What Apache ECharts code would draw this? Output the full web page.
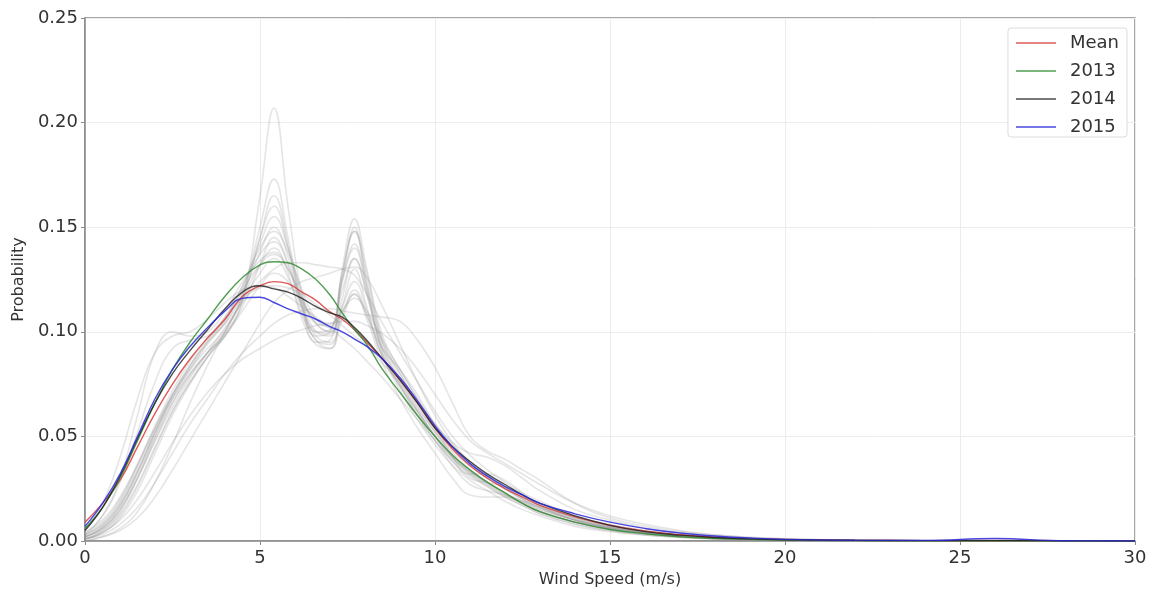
<!DOCTYPE html>
<html>
<head>
<meta charset="utf-8">
<script src="https://cdn.jsdelivr.net/npm/echarts@6/dist/echarts.min.js"></script>
<style>
html,body{margin:0;padding:0;background:#fff;}
#chart{width:1156px;height:596px;}
</style>
</head>
<body>
<div id="chart"></div>
<script>
// Wind speed grid (m/s)
const xs = [0, 0.5, 1, 1.5, 2, 2.5, 3, 3.5, 4, 4.5, 5, 5.4, 5.8, 6.2, 6.6, 7, 7.35, 7.7, 8.05, 8.5, 9, 9.5, 10, 10.5, 11, 11.5, 12, 12.5, 13, 14, 15, 16, 17, 18, 19, 20, 22, 24, 26, 28, 30];

const xTicks = [0, 5, 10, 15, 20, 25, 30];
const yTicks = [0, 0.05, 0.10, 0.15, 0.20, 0.25];

const meanVals = [0.009, 0.018, 0.029, 0.045, 0.061, 0.075, 0.087, 0.097, 0.106, 0.117, 0.122, 0.124, 0.123, 0.119, 0.115, 0.1095, 0.106, 0.101, 0.095, 0.087, 0.077, 0.066, 0.054, 0.044, 0.036, 0.030, 0.025, 0.021, 0.017, 0.0115, 0.0075, 0.0048, 0.003, 0.0018, 0.0011, 0.0007, 0.0003, 0.0002, 0.0003, 0.0001, 0];
const y2013 = [0.006, 0.016, 0.030, 0.048, 0.066, 0.082, 0.095, 0.106, 0.117, 0.126, 0.132, 0.1335, 0.133, 0.130, 0.125, 0.1176, 0.109, 0.101, 0.094, 0.082, 0.071, 0.060, 0.050, 0.041, 0.034, 0.028, 0.023, 0.018, 0.014, 0.009, 0.0055, 0.0035, 0.002, 0.0012, 0.0008, 0.0005, 0.0002, 0.0001, 0.0001, 0, 0];
const y2014 = [0.005, 0.016, 0.031, 0.049, 0.066, 0.080, 0.091, 0.101, 0.111, 0.119, 0.122, 0.1205, 0.119, 0.116, 0.112, 0.109, 0.107, 0.102, 0.096, 0.087, 0.077, 0.066, 0.054, 0.045, 0.038, 0.032, 0.027, 0.022, 0.018, 0.012, 0.0075, 0.0045, 0.0028, 0.0017, 0.001, 0.0006, 0.0003, 0.0002, 0.0002, 0.0001, 0];
const y2015 = [0.007, 0.018, 0.032, 0.050, 0.068, 0.082, 0.093, 0.102, 0.110, 0.116, 0.1165, 0.114, 0.111, 0.1085, 0.106, 0.1025, 0.100, 0.0965, 0.093, 0.087, 0.078, 0.067, 0.055, 0.045, 0.037, 0.031, 0.026, 0.022, 0.018, 0.013, 0.009, 0.006, 0.0038, 0.0024, 0.0014, 0.0008, 0.0004, 0.0003, 0.0012, 0.0001, 0];

// individual (monthly) curves, drawn in light grey
const g01 = [0.002, 0.006, 0.015, 0.030, 0.048, 0.066, 0.080, 0.090, 0.098, 0.115, 0.165, 0.207, 0.160, 0.118, 0.100, 0.098, 0.125, 0.150, 0.122, 0.090, 0.075, 0.062, 0.050, 0.040, 0.033, 0.028, 0.023, 0.018, 0.014, 0.009, 0.006, 0.004, 0.0025, 0.0015, 0.001, 0.0006, 0.0002, 0.0001, 0, 0, 0];
const g02 = [0.003, 0.008, 0.018, 0.034, 0.052, 0.068, 0.080, 0.090, 0.100, 0.118, 0.150, 0.173, 0.145, 0.115, 0.098, 0.100, 0.128, 0.148, 0.125, 0.095, 0.080, 0.066, 0.053, 0.043, 0.036, 0.030, 0.025, 0.020, 0.016, 0.010, 0.0065, 0.004, 0.0025, 0.0015, 0.001, 0.0006, 0.0002, 0.0001, 0, 0, 0];
const g03 = [0.001, 0.004, 0.012, 0.026, 0.044, 0.062, 0.076, 0.088, 0.098, 0.115, 0.145, 0.165, 0.142, 0.112, 0.095, 0.096, 0.130, 0.154, 0.130, 0.098, 0.082, 0.068, 0.055, 0.045, 0.038, 0.031, 0.025, 0.020, 0.016, 0.010, 0.0065, 0.004, 0.0025, 0.0015, 0.001, 0.0005, 0.0002, 0.0001, 0, 0, 0];
const g04 = [0.002, 0.007, 0.017, 0.033, 0.052, 0.070, 0.084, 0.095, 0.104, 0.120, 0.142, 0.155, 0.140, 0.118, 0.104, 0.103, 0.125, 0.142, 0.122, 0.094, 0.078, 0.064, 0.052, 0.042, 0.034, 0.028, 0.023, 0.019, 0.015, 0.010, 0.006, 0.0038, 0.0024, 0.0014, 0.0009, 0.0005, 0.0002, 0.0001, 0, 0, 0];
const g05 = [0.004, 0.010, 0.021, 0.037, 0.055, 0.072, 0.086, 0.097, 0.107, 0.122, 0.140, 0.148, 0.138, 0.120, 0.106, 0.102, 0.120, 0.135, 0.118, 0.092, 0.076, 0.062, 0.050, 0.040, 0.032, 0.027, 0.022, 0.018, 0.014, 0.009, 0.0055, 0.0035, 0.002, 0.0012, 0.0008, 0.0005, 0.0002, 0.0001, 0, 0, 0];
const g06 = [0.001, 0.005, 0.014, 0.030, 0.050, 0.068, 0.082, 0.094, 0.105, 0.122, 0.137, 0.143, 0.132, 0.110, 0.096, 0.094, 0.112, 0.130, 0.112, 0.088, 0.074, 0.060, 0.048, 0.036, 0.027, 0.024, 0.022, 0.019, 0.015, 0.010, 0.006, 0.0038, 0.0023, 0.0014, 0.0008, 0.0005, 0.0002, 0.0001, 0, 0, 0];
const g07 = [0.003, 0.012, 0.030, 0.060, 0.090, 0.100, 0.098, 0.100, 0.110, 0.124, 0.134, 0.138, 0.130, 0.116, 0.104, 0.100, 0.112, 0.124, 0.110, 0.088, 0.072, 0.058, 0.046, 0.036, 0.029, 0.024, 0.019, 0.015, 0.012, 0.007, 0.0045, 0.0028, 0.0017, 0.001, 0.0006, 0.0004, 0.0001, 0.0001, 0, 0, 0];
const g08 = [0.002, 0.006, 0.015, 0.030, 0.048, 0.064, 0.078, 0.090, 0.102, 0.114, 0.124, 0.130, 0.133, 0.133, 0.132, 0.131, 0.130, 0.127, 0.118, 0.104, 0.090, 0.076, 0.062, 0.050, 0.041, 0.034, 0.028, 0.023, 0.019, 0.012, 0.008, 0.005, 0.003, 0.0018, 0.0011, 0.0007, 0.0003, 0.0001, 0, 0, 0];
const g09 = [0.001, 0.003, 0.008, 0.016, 0.028, 0.042, 0.056, 0.068, 0.080, 0.090, 0.098, 0.104, 0.108, 0.110, 0.111, 0.111, 0.110, 0.109, 0.108, 0.107, 0.105, 0.096, 0.083, 0.066, 0.050, 0.043, 0.039, 0.034, 0.029, 0.018, 0.011, 0.007, 0.0045, 0.0028, 0.0017, 0.001, 0.0004, 0.0002, 0.0001, 0, 0];
const g10 = [0.001, 0.004, 0.010, 0.020, 0.033, 0.047, 0.060, 0.071, 0.080, 0.087, 0.092, 0.096, 0.099, 0.101, 0.103, 0.104, 0.105, 0.105, 0.103, 0.099, 0.092, 0.082, 0.070, 0.058, 0.048, 0.042, 0.037, 0.032, 0.027, 0.018, 0.012, 0.008, 0.005, 0.003, 0.0018, 0.0011, 0.0004, 0.0002, 0.0001, 0, 0];
const g11 = [0.000, 0.002, 0.006, 0.014, 0.028, 0.046, 0.066, 0.084, 0.100, 0.115, 0.128, 0.135, 0.126, 0.108, 0.096, 0.092, 0.106, 0.118, 0.108, 0.092, 0.082, 0.070, 0.055, 0.040, 0.030, 0.028, 0.026, 0.022, 0.017, 0.011, 0.007, 0.0045, 0.0028, 0.0017, 0.001, 0.0006, 0.0002, 0.0001, 0, 0, 0];
const g12 = [0.006, 0.018, 0.040, 0.068, 0.090, 0.098, 0.100, 0.106, 0.114, 0.120, 0.122, 0.121, 0.117, 0.112, 0.107, 0.102, 0.097, 0.092, 0.086, 0.078, 0.068, 0.058, 0.048, 0.039, 0.032, 0.026, 0.021, 0.017, 0.013, 0.008, 0.005, 0.003, 0.0018, 0.0011, 0.0006, 0.0004, 0.0001, 0.0001, 0, 0, 0];
const g13 = [0.002, 0.006, 0.016, 0.032, 0.050, 0.066, 0.079, 0.090, 0.099, 0.112, 0.132, 0.145, 0.133, 0.112, 0.100, 0.101, 0.128, 0.148, 0.128, 0.096, 0.080, 0.065, 0.052, 0.041, 0.033, 0.028, 0.023, 0.018, 0.014, 0.009, 0.006, 0.0036, 0.0022, 0.0013, 0.0008, 0.0005, 0.0002, 0.0001, 0, 0, 0];
const g14 = [0.004, 0.012, 0.028, 0.052, 0.076, 0.092, 0.096, 0.098, 0.104, 0.118, 0.138, 0.150, 0.136, 0.112, 0.098, 0.095, 0.108, 0.120, 0.108, 0.088, 0.074, 0.060, 0.048, 0.038, 0.031, 0.026, 0.021, 0.017, 0.013, 0.008, 0.005, 0.003, 0.0019, 0.0011, 0.0007, 0.0004, 0.0001, 0.0001, 0, 0, 0];
const g15 = [0.001, 0.004, 0.011, 0.024, 0.042, 0.060, 0.075, 0.088, 0.100, 0.116, 0.132, 0.140, 0.128, 0.106, 0.094, 0.092, 0.116, 0.135, 0.118, 0.090, 0.074, 0.062, 0.050, 0.038, 0.032, 0.032, 0.029, 0.023, 0.017, 0.010, 0.0065, 0.004, 0.0025, 0.0015, 0.0009, 0.0005, 0.0002, 0.0001, 0, 0, 0];
const g16 = [0.003, 0.008, 0.019, 0.036, 0.054, 0.070, 0.082, 0.092, 0.101, 0.117, 0.145, 0.160, 0.140, 0.114, 0.100, 0.099, 0.124, 0.140, 0.120, 0.092, 0.077, 0.063, 0.050, 0.040, 0.033, 0.027, 0.022, 0.018, 0.014, 0.009, 0.0058, 0.0036, 0.0022, 0.0013, 0.0008, 0.0005, 0.0002, 0.0001, 0, 0, 0];
const g17 = [0.003, 0.009, 0.020, 0.036, 0.054, 0.070, 0.084, 0.096, 0.107, 0.116, 0.121, 0.122, 0.121, 0.118, 0.113, 0.108, 0.103, 0.098, 0.093, 0.085, 0.076, 0.066, 0.056, 0.046, 0.038, 0.031, 0.026, 0.021, 0.017, 0.011, 0.007, 0.0045, 0.0028, 0.0017, 0.001, 0.0006, 0.0002, 0.0001, 0, 0, 0];
const g18 = [0.000, 0.002, 0.005, 0.011, 0.021, 0.034, 0.048, 0.062, 0.076, 0.090, 0.104, 0.114, 0.120, 0.124, 0.126, 0.128, 0.130, 0.131, 0.126, 0.112, 0.094, 0.076, 0.060, 0.047, 0.037, 0.030, 0.025, 0.020, 0.016, 0.010, 0.0065, 0.004, 0.0025, 0.0015, 0.0009, 0.0005, 0.0002, 0.0001, 0, 0, 0];
const g19 = [0.002, 0.007, 0.017, 0.033, 0.052, 0.069, 0.083, 0.095, 0.106, 0.120, 0.132, 0.137, 0.130, 0.115, 0.104, 0.100, 0.110, 0.118, 0.106, 0.085, 0.068, 0.054, 0.042, 0.030, 0.022, 0.021, 0.021, 0.019, 0.016, 0.011, 0.007, 0.0045, 0.0028, 0.0017, 0.001, 0.0006, 0.0002, 0.0001, 0, 0, 0];
const g20 = [0.001, 0.005, 0.013, 0.027, 0.045, 0.062, 0.076, 0.088, 0.098, 0.110, 0.122, 0.128, 0.124, 0.114, 0.106, 0.104, 0.110, 0.116, 0.110, 0.096, 0.082, 0.068, 0.056, 0.047, 0.042, 0.040, 0.036, 0.030, 0.024, 0.015, 0.010, 0.006, 0.0038, 0.0023, 0.0014, 0.0008, 0.0003, 0.0001, 0, 0, 0];

const greyCurves = [g01, g02, g03, g04, g05, g06, g07, g08, g09, g10, g11, g12, g13, g14, g15, g16, g17, g18, g19, g20];

const namedSeries = [
  { name: 'Mean', values: meanVals, color: 'rgba(215,60,60,0.85)' },
  { name: '2013', values: y2013, color: 'rgba(50,140,50,0.85)' },
  { name: '2014', values: y2014, color: 'rgba(30,30,30,0.8)' },
  { name: '2015', values: y2015, color: 'rgba(40,40,220,0.85)' }
];

const FONT = 'DejaVu Sans';
const toPairs = vals => xs.map((x, i) => [x, vals[i]]);

const series = [];
greyCurves.forEach((vals, i) => {
  series.push({
    name: 'g' + i,
    type: 'line',
    data: toPairs(vals),
    smooth: 0.45,
    showSymbol: false,
    symbol: 'none',
    silent: true,
    lineStyle: { color: 'rgba(150,150,150,0.25)', width: 1.6 },
    z: 1
  });
});
namedSeries.forEach(s => {
  series.push({
    name: s.name,
    type: 'line',
    data: toPairs(s.values),
    smooth: 0.45,
    showSymbol: false,
    symbol: 'none',
    itemStyle: { color: s.color },
    lineStyle: { color: s.color, width: 1.4 },
    z: 3
  });
});

const chart = echarts.init(document.getElementById('chart'));
chart.setOption({
  animation: false,
  backgroundColor: '#fff',
  textStyle: { fontFamily: FONT },
  grid: {
    left: 85, right: 21, top: 18, bottom: 55,
    show: true, borderColor: '#8a8a8a', borderWidth: 1.5, backgroundColor: 'transparent'
  },
  legend: {
    data: namedSeries.map(s => s.name),
    orient: 'vertical',
    right: 29,
    top: 28,
    icon: 'rect',
    itemWidth: 40,
    itemHeight: 1.5,
    itemGap: 10,
    padding: [6, 8, 1, 8],
    backgroundColor: '#fff',
    borderColor: '#dcdcdc',
    borderWidth: 1,
    borderRadius: 3,
    textStyle: { fontFamily: FONT, fontSize: 18, color: '#333', padding: [0, 0, 0, 9], lineHeight: 18 }
  },
  xAxis: {
    type: 'value',
    min: xTicks[0],
    max: xTicks[xTicks.length - 1],
    interval: 5,
    name: 'Wind Speed (m/s)',
    nameLocation: 'middle',
    nameGap: 31,
    nameTextStyle: { fontFamily: FONT, fontSize: 16, color: '#333' },
    axisLine: { show: true, lineStyle: { color: '#8a8a8a', width: 1.5 } },
    axisTick: { show: true, length: 4, lineStyle: { color: '#8a8a8a' } },
    axisLabel: { fontFamily: FONT, fontSize: 18, color: '#333', margin: 8 },
    splitLine: { show: true, lineStyle: { color: '#ececec', width: 1 } }
  },
  yAxis: {
    type: 'value',
    min: yTicks[0],
    max: yTicks[yTicks.length - 1],
    interval: 0.05,
    name: 'Probability',
    nameLocation: 'middle',
    nameGap: 57,
    nameTextStyle: { fontFamily: FONT, fontSize: 16, color: '#333' },
    axisLine: { show: true, lineStyle: { color: '#8a8a8a', width: 1.5 } },
    axisTick: { show: true, length: 4, lineStyle: { color: '#8a8a8a' } },
    axisLabel: { fontFamily: FONT, fontSize: 18, color: '#333', margin: 7, formatter: v => v.toFixed(2) },
    splitLine: { show: true, lineStyle: { color: '#ececec', width: 1 } }
  },
  series: series
});
</script>
</body>
</html>
